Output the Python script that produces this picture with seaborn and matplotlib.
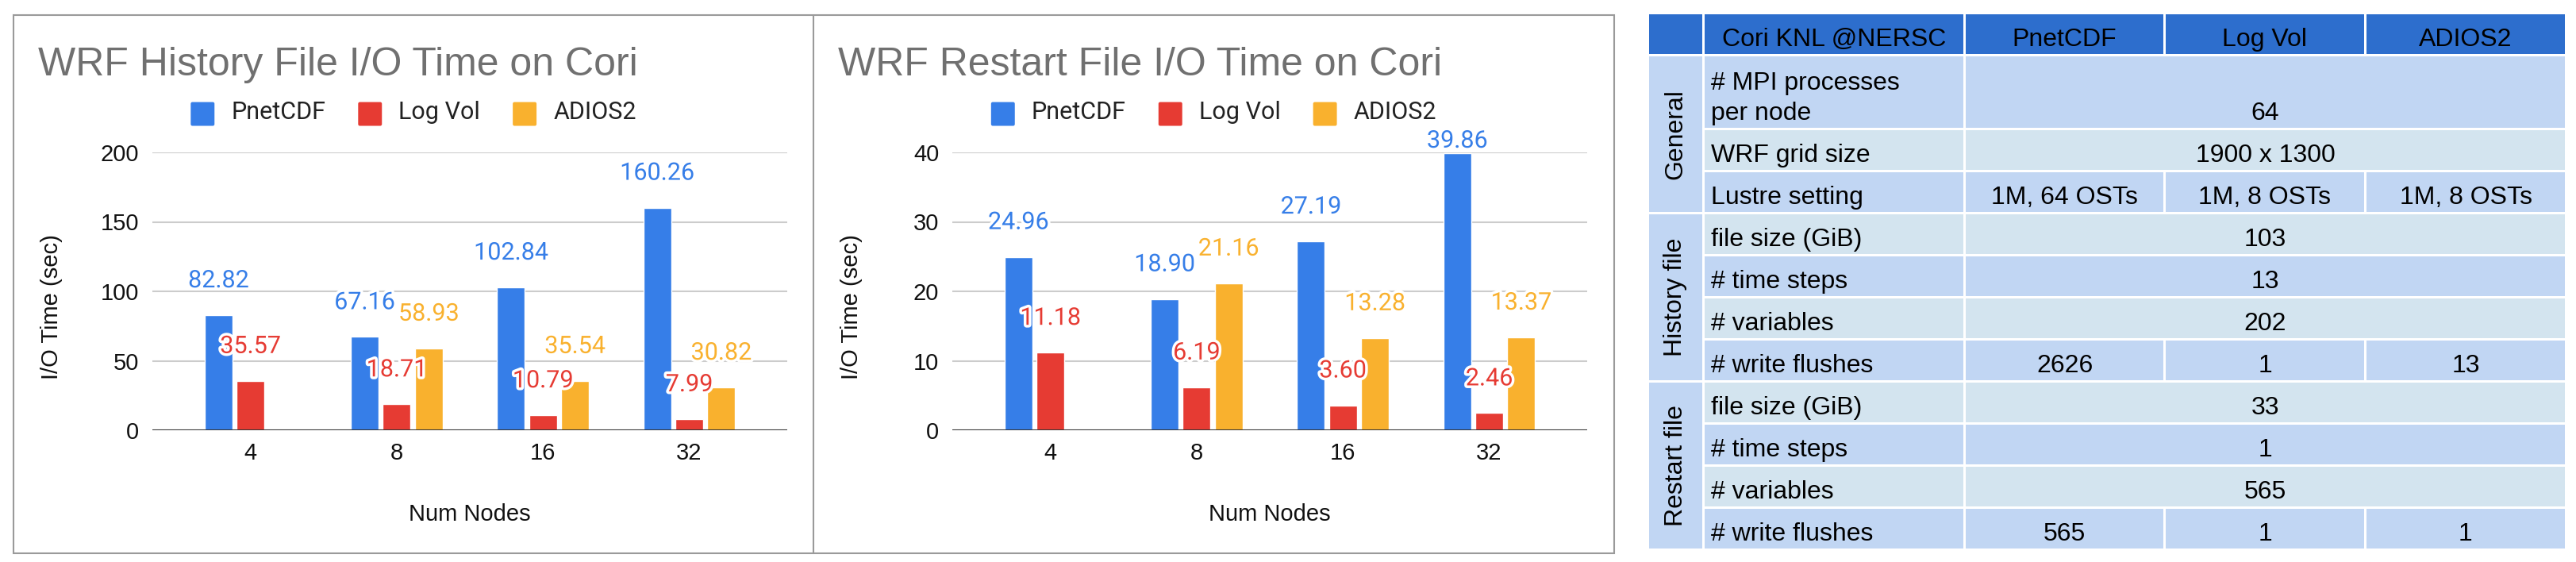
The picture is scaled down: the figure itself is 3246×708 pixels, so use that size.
import numpy as np
import pandas as pd
import seaborn as sns
import matplotlib.pyplot as plt
import matplotlib.patheffects as pe
from matplotlib.patches import Rectangle, FancyBboxPatch, Patch
from matplotlib.legend_handler import HandlerPatch
from matplotlib.lines import Line2D

# ---- chart data ----
nodes = ["4", "8", "16", "32"]
series = ["PnetCDF", "Log Vol", "ADIOS2"]
colors = ["#367ee8", "#e63b33", "#f9b12e"]

hist_pnetcdf = [82.82, 67.16, 102.84, 160.26]
hist_logvol = [35.57, 18.71, 10.79, 7.99]
hist_adios2 = [np.nan, 58.93, 35.54, 30.82]

rst_pnetcdf = [24.96, 18.90, 27.19, 39.86]
rst_logvol = [11.18, 6.19, 3.60, 2.46]
rst_adios2 = [np.nan, 21.16, 13.28, 13.37]

titles = ["WRF History File I/O Time on Cori", "WRF Restart File I/O Time on Cori"]
yticks_hist = [0, 50, 100, 150, 200]
yticks_rst = [0, 10, 20, 30, 40]

# ---- table data ----
table_header = ["", "Cori KNL @NERSC", "PnetCDF", "Log Vol", "ADIOS2"]
table_groups = ["General", "History file", "Restart file"]
table_rows = [
    # (group, label, values)  one value = spans the three columns
    ("General", "# MPI processes\nper node", ["64"]),
    ("General", "WRF grid size", ["1900 x 1300"]),
    ("General", "Lustre setting", ["1M, 64 OSTs", "1M, 8 OSTs", "1M, 8 OSTs"]),
    ("History file", "file size (GiB)", ["103"]),
    ("History file", "# time steps", ["13"]),
    ("History file", "# variables", ["202"]),
    ("History file", "# write flushes", ["2626", "1", "13"]),
    ("Restart file", "file size (GiB)", ["33"]),
    ("Restart file", "# time steps", ["1"]),
    ("Restart file", "# variables", ["565"]),
    ("Restart file", "# write flushes", ["565", "1", "1"]),
]

W, H = 3246, 708
sns.set_theme(style="white")
plt.rcParams["font.family"] = ["Liberation Sans", "DejaVu Sans"]

fig = plt.figure(figsize=(W / 100, H / 100), dpi=100)


def fx(x):
    return x / W


def fy(y):
    return 1 - y / H


class RoundBox(HandlerPatch):
    def create_artists(self, legend, orig_handle, xdescent, ydescent,
                       width, height, fontsize, trans):
        r = 1.5
        p = FancyBboxPatch((-xdescent + r, -ydescent + r - 4), width - 2 * r, width - 2 * r,
                           boxstyle=f"round,pad={r}", fc=orig_handle.get_facecolor(),
                           ec="none", transform=trans)
        return [p]


def draw_chart(box_left, box_right, title, values, yticks):
    ax_left = box_left + 175
    ax = fig.add_axes([fx(ax_left), fy(542), 800 / W, 350 / H])
    df = pd.DataFrame({
        "nodes": np.repeat(nodes, 1).tolist() * 3,
        "series": [s for s in series for _ in nodes],
        "time": [v for vals in values for v in vals],
    })
    sns.barplot(data=df, x="nodes", y="time", hue="series", hue_order=series,
                palette=colors, saturation=1, width=0.656, gap=0.13,
                errorbar=None, legend=False, ax=ax)
    ax.set_xlim(-0.67, 3.67)
    ax.set_ylim(yticks[0], yticks[-1])
    ax.set_yticks(yticks)
    ax.yaxis.grid(True, color="#cccccc", lw=1.5)
    ax.set_axisbelow(True)
    ax.axhline(0, color="#333333", lw=2.2, zorder=3)
    sns.despine(ax=ax, left=True, bottom=True)
    ax.tick_params(axis="both", length=0, labelsize=21, colors="#111111")
    ax.tick_params(axis="y", pad=12)
    ax.tick_params(axis="x", pad=11)

    ax.set_xlabel("Num Nodes", fontsize=21, color="#111111")
    ax.xaxis.set_label_coords(0.5, (542 - 648) / 350)
    ax.xaxis.label.set_va("center")
    ax.set_ylabel("I/O Time (sec)", fontsize=21, color="#111111")
    ax.yaxis.set_label_coords((65 - 175 - 17) / 800, (542 - 387) / 350)
    ax.yaxis.label.set_va("center")

    # value labels above the bars, kept below the legend
    for cont in ax.containers:
        for patch in cont:
            h = patch.get_height()
            if np.isnan(h):
                continue
            xc = patch.get_x() + patch.get_width() / 2
            top = ax.transData.transform((xc, h))[1]
            base = min(top + 35, H - 186)
            yd = ax.transData.inverted().transform((0, base))[1]
            ax.text(xc, yd, f"{h:.2f}", ha="center", va="baseline",
                    fontsize=22, family="Roboto", color=patch.get_facecolor(),
                    clip_on=False, zorder=5,
                    path_effects=[pe.withStroke(linewidth=5, foreground="white")])

    handles = [Patch(facecolor=c, label=s) for s, c in zip(series, colors)]
    ax.legend(handles=handles, loc="center", ncol=3, frameon=False,
              bbox_to_anchor=(fx((box_left + box_right) / 2), fy(141)),
              bbox_transform=fig.transFigure,
              prop={"family": "Roboto", "size": 22}, labelcolor="#222222",
              handlelength=0.98, handleheight=0.98, handletextpad=0.69,
              columnspacing=1.34, handler_map={Patch: RoundBox()})

    fig.text(fx(box_left + 31), fy(95), title, fontsize=36, color="#707070",
             va="baseline", ha="left")
    return ax


draw_chart(17, 1025, titles[0], [hist_pnetcdf, hist_logvol, hist_adios2], yticks_hist)
draw_chart(1025, 2034, titles[1], [rst_pnetcdf, rst_logvol, rst_adios2], yticks_rst)

# chart frames
fig.add_artist(Rectangle((fx(17), fy(697)), (2034 - 17) / W, (697 - 19) / H,
                         transform=fig.transFigure, fill=False, ec="#9a9a9a", lw=1.5))
fig.add_artist(Line2D([fx(1025), fx(1025)], [fy(19), fy(697)],
                      transform=fig.transFigure, color="#9a9a9a", lw=1.5))

# ---- table ----
tax = fig.add_axes([0, 0, 1, 1])
tax.set_xlim(0, W)
tax.set_ylim(H, 0)
tax.axis("off")
tax.patch.set_alpha(0)

head_c, row_a, row_b = "#2d6ecd", "#c1d6f3", "#d3e4ef"
col_l = [2078, 2148, 2477, 2729, 2982]
col_r = [2145, 2474, 2726, 2979, 3232]
gap = 3
fs = 23

# header
y0 = 18
for i, txt in enumerate(table_header):
    tax.add_patch(Rectangle((col_l[i], y0), col_r[i] - col_l[i], 50, color=head_c, lw=0))
    tax.text((col_l[i] + col_r[i]) / 2, y0 + 40, txt, ha="center", va="baseline",
             fontsize=fs, color="black")

y = y0 + 50 + gap
group_span = {}
for k, (grp, label, vals) in enumerate(table_rows):
    h = 90 if "\n" in label else 50
    fc = row_a if k % 2 == 0 else row_b
    bottom = y + h
    # label cell
    tax.add_patch(Rectangle((col_l[1], y), col_r[1] - col_l[1], h, color=fc, lw=0))
    lines = label.split("\n")
    for j, ln in enumerate(lines):
        tax.text(col_l[1] + 8, bottom - 10 - 38 * (len(lines) - 1 - j), ln,
                 ha="left", va="baseline", fontsize=fs, color="black")
    # value cells
    if len(vals) == 1:
        tax.add_patch(Rectangle((col_l[2], y), col_r[4] - col_l[2], h, color=fc, lw=0))
        tax.text((col_l[2] + col_r[4]) / 2, bottom - 10, vals[0], ha="center",
                 va="baseline", fontsize=fs, color="black")
    else:
        for j, v in enumerate(vals):
            c = j + 2
            tax.add_patch(Rectangle((col_l[c], y), col_r[c] - col_l[c], h, color=fc, lw=0))
            tax.text((col_l[c] + col_r[c]) / 2, bottom - 10, v, ha="center",
                     va="baseline", fontsize=fs, color="black")
    top0, _ = group_span.get(grp, (y, bottom))
    group_span[grp] = (top0, bottom)
    y = bottom + gap

for grp in table_groups:
    t, b = group_span[grp]
    tax.add_patch(Rectangle((col_l[0], t), col_r[0] - col_l[0], b - t, color=row_a, lw=0))
    tax.text((col_l[0] + col_r[0]) / 2, (t + b) / 2, grp, rotation=90,
             ha="center", va="center", fontsize=fs, color="black")

fig.savefig("out.png", dpi=100)
